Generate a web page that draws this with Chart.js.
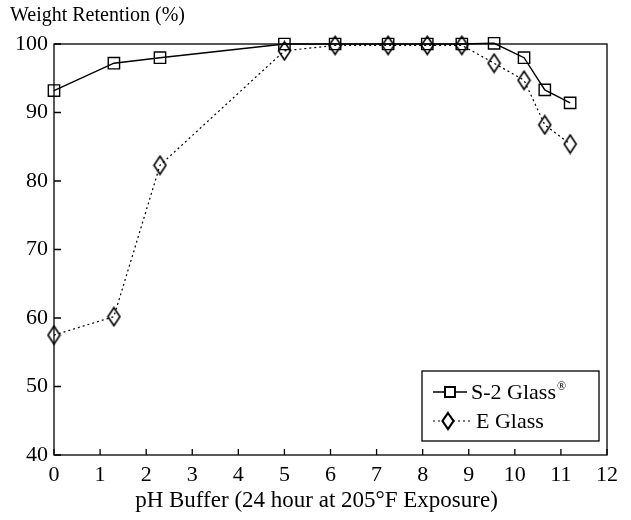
<!DOCTYPE html>
<html><head><meta charset="utf-8">
<script src="https://cdn.jsdelivr.net/npm/chart.js@4/dist/chart.umd.min.js"></script>
<style>html,body{margin:0;padding:0;background:#fff}#wrap{width:631px;height:520px}</style>
</head><body><div id="wrap"><canvas id="c" width="631" height="520"></canvas></div>
<script>
// ---- data ----
const phS2 = [0, 1.3, 2.3, 5.0, 6.1, 7.25, 8.1, 8.85, 9.55, 10.2, 10.65, 11.2];
const retentionS2 = [93.2, 97.2, 98.0, 100.0, 100.0, 100.0, 100.0, 100.0, 100.1, 98.0, 93.3, 91.4];
const phE = [0, 1.3, 2.3, 5.0, 6.1, 7.25, 8.1, 8.85, 9.55, 10.2, 10.65, 11.2];
const retentionE = [57.5, 60.2, 82.3, 99.0, 99.8, 99.8, 99.8, 99.8, 97.2, 94.7, 88.2, 85.4];
const xTickValues = [0, 1, 2, 3, 4, 5, 6, 7, 8, 9, 10, 11, 12];
const yTickValues = [40, 50, 60, 70, 80, 90, 100];
const seriesNames = ['S-2 Glass', 'E Glass'];
const yTitle = 'Weight Retention (%)';
const xTitle = 'pH Buffer (24 hour at 205\u00B0F Exposure)';

const FONT = '"Liberation Serif", "DejaVu Serif", serif';

function makeDiamond(w, h) {
  const c = document.createElement('canvas');
  c.width = w + 3; c.height = h + 3;
  const g = c.getContext('2d');
  g.strokeStyle = '#000'; g.lineWidth = 1.6;
  g.beginPath();
  g.moveTo(c.width / 2, 1.5);
  g.lineTo(c.width - 1.5, c.height / 2);
  g.lineTo(c.width / 2, c.height - 1.5);
  g.lineTo(1.5, c.height / 2);
  g.closePath();
  g.stroke();
  return c;
}
const diamond = makeDiamond(12, 18);

const toPts = (xs, ys) => xs.map((x, i) => ({x: x, y: ys[i]}));

const framePlugin = {
  id: 'frame',
  afterDraw(chart) {
    const {ctx, chartArea: a, scales} = chart;
    ctx.save();
    ctx.strokeStyle = '#000';
    ctx.lineWidth = 1.3;
    ctx.strokeRect(a.left, a.top, a.right - a.left, a.bottom - a.top);
    ctx.beginPath();
    xTickValues.forEach(v => {
      const px = scales.x.getPixelForValue(v);
      ctx.moveTo(px, a.bottom); ctx.lineTo(px, a.bottom - 6);
    });
    yTickValues.forEach(v => {
      const py = scales.y.getPixelForValue(v);
      ctx.moveTo(a.left, py); ctx.lineTo(a.left + 7, py);
    });
    ctx.stroke();
    // x-axis title, set slightly left of the plot centre as in the reference
    ctx.fillStyle = '#000';
    ctx.font = '23px ' + FONT;
    ctx.textAlign = 'center';
    ctx.textBaseline = 'middle';
    ctx.fillText(xTitle, (a.left + a.right) / 2 - 14, a.bottom + 46);
    ctx.restore();
  }
};

const legendPlugin = {
  id: 'boxLegend',
  afterDraw(chart) {
    const {ctx, chartArea: a} = chart;
    const right = a.right - 8, bottom = a.bottom - 14;
    const w = 177, h = 70;
    const left = right - w, top = bottom - h;
    ctx.save();
    ctx.fillStyle = '#fff';
    ctx.fillRect(left, top, w, h);
    ctx.strokeStyle = '#000';
    ctx.lineWidth = 1.3;
    ctx.strokeRect(left, top, w, h);
    const rows = [top + 21, top + 50];
    chart.data.datasets.forEach((ds, i) => {
      const y = rows[i];
      const x0 = left + 11, x1 = left + (i === 0 ? 45 : 50);
      ctx.strokeStyle = '#000';
      ctx.lineWidth = ds.borderWidth;
      ctx.setLineDash(ds.borderDash || []);
      ctx.beginPath(); ctx.moveTo(x0, y); ctx.lineTo(x1, y); ctx.stroke();
      ctx.setLineDash([]);
      const mx = left + (i === 0 ? 28 : 26);
      if (ds.pointStyle === 'rect') {
        ctx.fillStyle = '#fff';
        ctx.lineWidth = 2;
        ctx.fillRect(mx - 5, y - 5, 10, 10);
        ctx.strokeRect(mx - 5, y - 5, 10, 10);
      } else {
        ctx.lineWidth = 2.2;
        ctx.fillStyle = '#fff';
        ctx.beginPath();
        ctx.moveTo(mx, y - 8); ctx.lineTo(mx + 5.5, y); ctx.lineTo(mx, y + 8); ctx.lineTo(mx - 5.5, y); ctx.closePath();
        ctx.fill(); ctx.stroke();
      }
      ctx.fillStyle = '#000';
      ctx.font = '22px ' + FONT;
      ctx.textBaseline = 'middle';
      ctx.textAlign = 'left';
      const tx = left + (i === 0 ? 49 : 54);
      ctx.fillText(ds.label, tx, y + 1);
      if (i === 0) {
        const tw = ctx.measureText(ds.label).width;
        ctx.font = '12px ' + FONT;
        ctx.fillText('\u00AE', tx + tw + 1, y - 5);
      }
    });
    ctx.restore();
  }
};

new Chart(document.getElementById('c'), {
  type: 'line',
  data: {
    datasets: [
      {
        label: seriesNames[0],
        data: toPts(phS2, retentionS2),
        borderColor: '#000',
        borderWidth: 1.4,
        pointStyle: 'rect',
        pointRadius: 8,
        pointBorderWidth: 1.4,
        pointBorderColor: '#000',
        pointBackgroundColor: 'rgba(0,0,0,0)',
        fill: false,
        tension: 0
      },
      {
        label: seriesNames[1],
        data: toPts(phE, retentionE),
        borderColor: '#000',
        borderWidth: 1.2,
        borderDash: [2, 3],
        pointStyle: diamond,
        pointRadius: 8,
        fill: false,
        tension: 0
      }
    ]
  },
  options: {
    responsive: false,
    animation: false,
    clip: false,
    layout: {padding: {left: 10, right: 24, top: 0, bottom: 0}},
    plugins: {
      legend: {display: false},
      tooltip: {enabled: false},
      title: {
        display: true,
        text: yTitle,
        align: 'start',
        color: '#000',
        font: {family: FONT, size: 20, weight: 'normal'},
        padding: {top: 4, bottom: 16}
      }
    },
    scales: {
      x: {
        type: 'linear',
        min: 0, max: 12,
        afterBuildTicks: s => { s.ticks = xTickValues.map(v => ({value: v})); },
        afterFit: s => { s.height = 65; },
        grid: {display: false, drawTicks: false},
        border: {display: false},
        ticks: {color: '#000', font: {family: FONT, size: 22}, padding: 7, maxRotation: 0, autoSkip: false},
        title: {display: false}
      },
      y: {
        type: 'linear',
        min: 40, max: 100,
        afterBuildTicks: s => { s.ticks = yTickValues.map(v => ({value: v})); },
        afterFit: s => { s.width = 44; },
        grid: {display: false, drawTicks: false},
        border: {display: false},
        ticks: {color: '#000', font: {family: FONT, size: 22}, padding: 6}
      }
    }
  },
  plugins: [framePlugin, legendPlugin]
});
</script>
</body></html>
